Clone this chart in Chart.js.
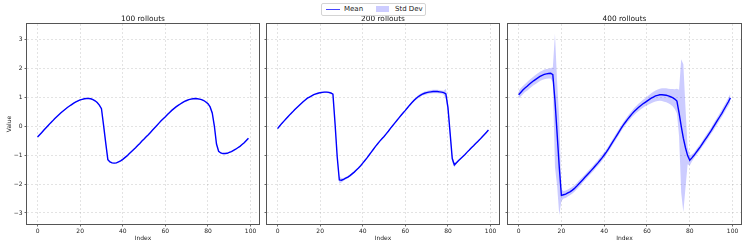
<!DOCTYPE html>
<html>
<head>
<meta charset="utf-8">
<script src="https://cdn.jsdelivr.net/npm/chart.js@4.4.1/dist/chart.umd.min.js"></script>
<style>
  html, body { margin: 0; padding: 0; background: #fff; }
  #wrap { position: relative; width: 747px; height: 249px; }
  #wrap canvas { position: absolute; left: 0; top: 0; }
  #legend {
    position: absolute; left: 321px; top: 3px; width: 103px; height: 11px;
    border: 1px solid #d4d4d4; border-radius: 2px; background: #fff;
    font-family: "DejaVu Sans", sans-serif; font-size: 7px; color: #222;
    -webkit-font-smoothing: antialiased;
  }
  #legend .line { position: absolute; left: 4px; top: 5px; width: 14px; height: 0; border-top: 1.5px solid rgb(70,70,255); }
  #legend .patch { position: absolute; left: 54px; top: 2px; width: 13px; height: 6px; background: rgba(0,0,255,0.2); }
  #legend span { position: absolute; top: 1px; line-height: 8px; }
</style>
</head>
<body>
<div id="wrap">
  <canvas id="c1" width="747" height="249"></canvas>
  <canvas id="c2" width="747" height="249"></canvas>
  <canvas id="c3" width="747" height="249"></canvas>
  <div id="legend">
    <div class="line"></div><span style="left:22px">Mean</span>
    <div class="patch"></div><span style="left:73px">Std Dev</span>
  </div>
</div>
<script>
const titles = ["100 rollouts", "200 rollouts", "400 rollouts"];
const xTicks = [0, 20, 40, 60, 80, 100];
const yTicks = [-3, -2, -1, 0, 1, 2, 3];

const mean100 = [
  -0.38, -0.30, -0.22, -0.14, -0.06, 0.02, 0.10, 0.17, 0.25, 0.32,
  0.39, 0.46, 0.52, 0.58, 0.64, 0.69, 0.74, 0.79, 0.83, 0.87,
  0.90, 0.92, 0.94, 0.95, 0.95, 0.94, 0.91, 0.87, 0.81, 0.72,
  0.60, 0.02, -0.58, -1.16, -1.24, -1.27, -1.28, -1.27, -1.24, -1.20,
  -1.15, -1.09, -1.03, -0.96, -0.89, -0.82, -0.75, -0.67, -0.60, -0.52,
  -0.45, -0.37, -0.30, -0.22, -0.14, -0.06, 0.02, 0.10, 0.18, 0.25,
  0.32, 0.40, 0.47, 0.54, 0.60, 0.66, 0.71, 0.76, 0.81, 0.85,
  0.88, 0.91, 0.93, 0.94, 0.95, 0.94, 0.93, 0.91, 0.88, 0.83,
  0.77, 0.66, 0.45, 0.00, -0.62, -0.87, -0.93, -0.95, -0.95, -0.94,
  -0.91, -0.88, -0.84, -0.80, -0.75, -0.70, -0.64, -0.58, -0.50, -0.42
];
const std100 = [
  0.02, 0.02, 0.02, 0.02, 0.02, 0.02, 0.02, 0.02, 0.02, 0.02,
  0.02, 0.02, 0.02, 0.02, 0.02, 0.02, 0.02, 0.02, 0.02, 0.02,
  0.02, 0.02, 0.02, 0.02, 0.02, 0.02, 0.02, 0.02, 0.02, 0.03,
  0.03, 0.04, 0.04, 0.04, 0.03, 0.02, 0.02, 0.02, 0.02, 0.02,
  0.02, 0.02, 0.02, 0.02, 0.02, 0.02, 0.02, 0.02, 0.02, 0.02,
  0.02, 0.02, 0.02, 0.02, 0.02, 0.02, 0.02, 0.02, 0.02, 0.02,
  0.02, 0.02, 0.02, 0.02, 0.02, 0.02, 0.02, 0.02, 0.02, 0.02,
  0.02, 0.02, 0.02, 0.02, 0.02, 0.02, 0.02, 0.02, 0.02, 0.03,
  0.03, 0.03, 0.04, 0.04, 0.03, 0.02, 0.02, 0.02, 0.02, 0.02,
  0.02, 0.02, 0.02, 0.02, 0.02, 0.02, 0.02, 0.02, 0.02, 0.02
];

const mean200 = [
  -0.09, 0.00, 0.09, 0.17, 0.25, 0.33, 0.41, 0.48, 0.56, 0.63,
  0.70, 0.77, 0.84, 0.90, 0.96, 1.00, 1.04, 1.08, 1.11, 1.13,
  1.15, 1.16, 1.17, 1.17, 1.16, 1.14, 1.10, 0.08, -1.06, -1.86,
  -1.87, -1.84, -1.80, -1.76, -1.71, -1.65, -1.59, -1.52, -1.45, -1.37,
  -1.28, -1.19, -1.10, -1.00, -0.90, -0.80, -0.70, -0.61, -0.52, -0.44,
  -0.36, -0.27, -0.18, -0.08, 0.01, 0.10, 0.19, 0.28, 0.37, 0.46,
  0.54, 0.63, 0.72, 0.80, 0.88, 0.95, 1.01, 1.06, 1.10, 1.13,
  1.15, 1.17, 1.18, 1.19, 1.19, 1.19, 1.18, 1.17, 1.15, 1.11,
  0.63, -0.24, -1.12, -1.34, -1.27, -1.19, -1.12, -1.05, -0.98, -0.90,
  -0.83, -0.75, -0.68, -0.60, -0.53, -0.46, -0.38, -0.30, -0.22, -0.14
];
const std200 = [
  0.02, 0.02, 0.02, 0.02, 0.02, 0.02, 0.02, 0.02, 0.02, 0.02,
  0.02, 0.02, 0.02, 0.02, 0.02, 0.02, 0.02, 0.02, 0.03, 0.03,
  0.03, 0.03, 0.03, 0.03, 0.03, 0.03, 0.03, 0.05, 0.08, 0.12,
  0.08, 0.05, 0.04, 0.04, 0.04, 0.04, 0.03, 0.03, 0.02, 0.02,
  0.02, 0.02, 0.02, 0.02, 0.02, 0.02, 0.02, 0.02, 0.02, 0.02,
  0.02, 0.02, 0.02, 0.02, 0.02, 0.02, 0.02, 0.02, 0.02, 0.02,
  0.02, 0.03, 0.03, 0.03, 0.04, 0.04, 0.05, 0.05, 0.05, 0.06,
  0.06, 0.06, 0.06, 0.06, 0.06, 0.06, 0.06, 0.06, 0.07, 0.18,
  0.20, 0.15, 0.12, 0.08, 0.04, 0.02, 0.02, 0.02, 0.02, 0.02,
  0.02, 0.02, 0.02, 0.02, 0.02, 0.02, 0.02, 0.02, 0.02, 0.02
];

const mean400 = [
  1.08, 1.16, 1.24, 1.31, 1.37, 1.44, 1.50, 1.56, 1.61, 1.66,
  1.71, 1.75, 1.78, 1.80, 1.81, 1.82, 1.77, 0.88, -0.26, -1.41,
  -2.39, -2.37, -2.35, -2.31, -2.27, -2.22, -2.16, -2.09, -2.01, -1.93,
  -1.85, -1.77, -1.69, -1.61, -1.53, -1.45, -1.36, -1.28, -1.19, -1.10,
  -1.00, -0.90, -0.79, -0.67, -0.55, -0.43, -0.31, -0.19, -0.07, 0.04,
  0.14, 0.24, 0.33, 0.42, 0.50, 0.57, 0.64, 0.70, 0.76, 0.81,
  0.86, 0.91, 0.96, 1.00, 1.04, 1.06, 1.08, 1.08, 1.07, 1.06,
  1.04, 1.01, 0.98, 0.93, 0.86, 0.45, 0.00, -0.42, -0.75, -1.02,
  -1.18, -1.10, -1.01, -0.91, -0.81, -0.71, -0.60, -0.49, -0.38, -0.27,
  -0.16, -0.04, 0.08, 0.20, 0.32, 0.44, 0.57, 0.70, 0.83, 0.97
];
const std400 = [
  0.14, 0.14, 0.14, 0.14, 0.15, 0.15, 0.15, 0.15, 0.16, 0.16,
  0.16, 0.16, 0.17, 0.17, 0.17, 0.18, 0.25, 2.30, 1.80, 1.66,
  0.20, 0.13, 0.13, 0.12, 0.12, 0.12, 0.12, 0.11, 0.11, 0.11,
  0.10, 0.10, 0.10, 0.10, 0.10, 0.10, 0.10, 0.10, 0.10, 0.10,
  0.10, 0.10, 0.10, 0.10, 0.10, 0.10, 0.10, 0.10, 0.10, 0.10,
  0.10, 0.11, 0.11, 0.11, 0.12, 0.12, 0.13, 0.13, 0.14, 0.14,
  0.15, 0.16, 0.17, 0.18, 0.19, 0.20, 0.21, 0.22, 0.23, 0.24,
  0.25, 0.27, 0.30, 0.34, 0.43, 0.80, 2.30, 2.55, 1.39, 0.30,
  0.18, 0.12, 0.10, 0.10, 0.10, 0.10, 0.10, 0.11, 0.11, 0.11,
  0.11, 0.12, 0.12, 0.12, 0.12, 0.13, 0.13, 0.13, 0.14, 0.14
];

const panels = [
  { id: "c1", title: titles[0], mean: mean100, std: std100, left: 27, right: 259, yLabels: true },
  { id: "c2", title: titles[1], mean: mean200, std: std200, left: 267, right: 499, yLabels: false },
  { id: "c3", title: titles[2], mean: mean400, std: std400, left: 508, right: 741, yLabels: false }
];

const W = 747;
const FONT = "DejaVu Sans";
const tickFont = { family: FONT, size: 6 };

// box round the plot area, like matplotlib spines
const frame = {
  id: "frame",
  afterDraw(chart) {
    const { ctx, chartArea: a } = chart;
    ctx.save();
    ctx.strokeStyle = "#555";
    ctx.lineWidth = 1;
    ctx.strokeRect(a.left - 0.5, a.top - 0.5, a.width + 1, a.height + 1);
    ctx.restore();
  }
};

const fmt = v => (v < 0 ? "\u2212" + Math.abs(v) : String(v));

for (const p of panels) {
  const pts = arr => arr.map((v, i) => ({ x: i, y: v }));
  const upper = p.mean.map((m, i) => m + p.std[i]);
  const lower = p.mean.map((m, i) => m - p.std[i]);

  new Chart(document.getElementById(p.id), {
    type: "line",
    data: {
      datasets: [
        { label: "Mean", data: pts(p.mean), borderColor: "#0000ff", borderWidth: 1.4, pointRadius: 0, tension: 0, fill: false },
        { label: "Std Dev", data: pts(upper), borderColor: "transparent", borderWidth: 0, pointRadius: 0, tension: 0,
          fill: "+1", backgroundColor: "rgba(0,0,255,0.2)" },
        { label: "lower", data: pts(lower), borderColor: "transparent", borderWidth: 0, pointRadius: 0, tension: 0, fill: false }
      ]
    },
    options: {
      responsive: false,
      animation: false,
      layout: { padding: { left: p.left - (p.yLabels ? 27 : 3), right: W - p.right, top: 0, bottom: 0 } },
      plugins: {
        legend: { display: false },
        tooltip: { enabled: false },
        title: {
          display: true, text: p.title, fullSize: false, color: "#111",
          font: { family: FONT, size: 7.4, weight: "normal", lineHeight: 1.2 },
          padding: { top: 14.4, bottom: 0.72 }
        }
      },
      scales: {
        x: {
          type: "linear", min: -4.95, max: 103.95,
          afterBuildTicks: s => { s.ticks = xTicks.map(v => ({ value: v })); },
          afterFit: s => { s.height = 25; },
          ticks: { font: tickFont, color: "#222", padding: 1.2, maxRotation: 0, autoSkip: false },
          grid: { color: "rgba(0,0,0,0.14)", lineWidth: 0.8, tickColor: "#444", tickLength: 2.5, tickWidth: 0.8 },
          border: { display: false, dash: [2, 2] },
          title: { display: true, text: "Index", color: "#222", font: { family: FONT, size: 6 }, padding: { top: 0, bottom: 7 } }
        },
        y: {
          type: "linear", min: -3.38, max: 3.52,
          afterBuildTicks: s => { s.ticks = yTicks.map(v => ({ value: v })); },
          afterFit: s => { s.width = p.yLabels ? 27 : 3; },
          ticks: { display: p.yLabels, font: tickFont, color: "#222", padding: 2, callback: v => fmt(v) },
          grid: { color: "rgba(0,0,0,0.14)", lineWidth: 0.8, tickColor: "#444", tickLength: 2.5, tickWidth: 0.8 },
          border: { display: false, dash: [2, 2] },
          title: { display: p.yLabels, text: "Value", color: "#222", font: { family: FONT, size: 6 }, padding: { top: 6, bottom: 0 } }
        }
      }
    },
    plugins: [frame]
  });
}
</script>
</body>
</html>
